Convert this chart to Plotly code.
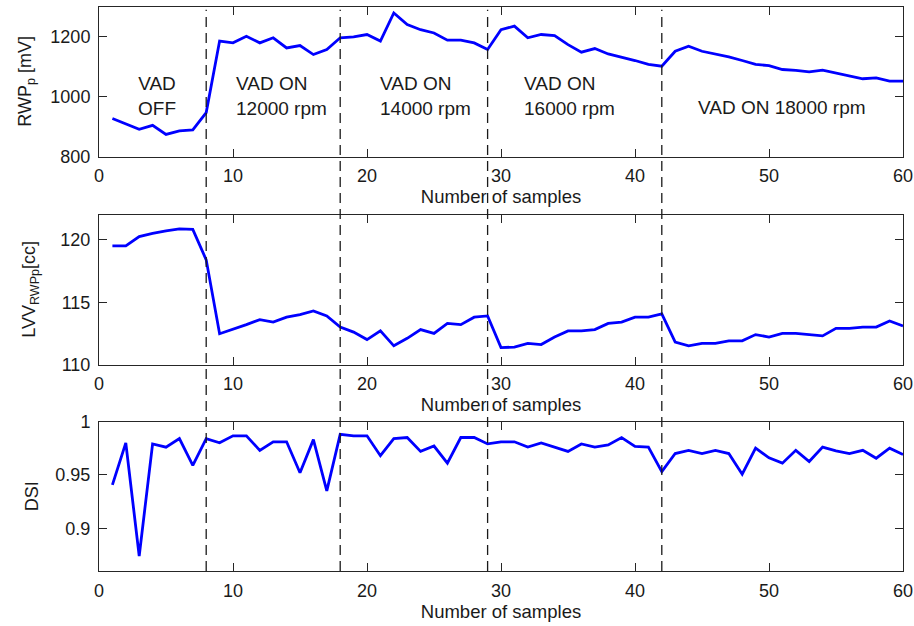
import plotly.graph_objects as go

samples = [1, 2, 3, 4, 5, 6, 7, 8, 9, 10, 11, 12, 13, 14, 15, 16, 17, 18, 19, 20,
           21, 22, 23, 24, 25, 26, 27, 28, 29, 30, 31, 32, 33, 34, 35, 36, 37, 38, 39, 40,
           41, 42, 43, 44, 45, 46, 47, 48, 49, 50, 51, 52, 53, 54, 55, 56, 57, 58, 59, 60]

rwp = [927, 908, 891, 904, 874, 886, 889, 947, 1186, 1180,
       1202, 1180, 1197, 1163, 1171, 1141, 1158, 1197, 1200, 1208,
       1186, 1280, 1241, 1224, 1213, 1189, 1189, 1180, 1158, 1224,
       1236, 1197, 1208, 1204, 1174, 1149, 1161, 1143, 1133, 1121,
       1108, 1102, 1152, 1169, 1152, 1143, 1133, 1121, 1108, 1104,
       1091, 1088, 1083, 1089, 1080, 1069, 1060, 1063, 1052, 1052]

lvv = [119.52, 119.52, 120.27, 120.53, 120.72, 120.88, 120.85, 118.4, 112.47, 112.82,
       113.2, 113.6, 113.4, 113.8, 114.0, 114.3, 113.9, 113.0, 112.6, 112.0,
       112.7, 111.5, 112.1, 112.8, 112.5, 113.3, 113.2, 113.8, 113.9, 111.36,
       111.4, 111.7, 111.6, 112.2, 112.7, 112.7, 112.8, 113.3, 113.4, 113.8,
       113.8, 114.07, 111.8, 111.5, 111.7, 111.7, 111.9, 111.9, 112.4, 112.2,
       112.5, 112.5, 112.4, 112.3, 112.9, 112.9, 113.0, 113.0, 113.5, 113.1]

dsi = [0.9406, 0.980, 0.874, 0.979, 0.976, 0.984, 0.959, 0.984, 0.980, 0.9866,
       0.9866, 0.973, 0.981, 0.981, 0.952, 0.983, 0.935, 0.988, 0.9866, 0.9866,
       0.968, 0.984, 0.985, 0.972, 0.977, 0.961, 0.985, 0.985, 0.979, 0.981,
       0.981, 0.976, 0.980, 0.976, 0.972, 0.979, 0.976, 0.978, 0.985, 0.9766,
       0.976, 0.953, 0.970, 0.973, 0.970, 0.973, 0.970, 0.9506, 0.975, 0.966,
       0.961, 0.973, 0.9625, 0.976, 0.9725, 0.970, 0.973, 0.9656, 0.975, 0.969]

phase_bounds = [8, 18, 29, 42]
phase_labels = ["VAD<br>OFF", "VAD ON<br>12000 rpm", "VAD ON<br>14000 rpm",
                "VAD ON<br>16000 rpm", "VAD ON 18000 rpm"]
phase_label_x = [4.3, 10.1, 20.85, 31.55, 51.0]
phase_label_y = [1002, 1002, 1002, 1002, 963]
phase_label_anchor = ["center", "left", "left", "left", "center"]

x_ticks = [0, 10, 20, 30, 40, 50, 60]
y1_ticks = [800, 1000, 1200]
y2_ticks = [110, 115, 120]
y3_ticks = [0.9, 0.95, 1]
y3_ticktext = ["0.9", "0.95", "1"]

FONT = "Liberation Sans, Arial, sans-serif"
TXT = "#1a1a1a"
BLUE = "#0000ff"

fig = go.Figure()
for i, ys in enumerate([rwp, lvv, dsi]):
    sfx = "" if i == 0 else str(i + 1)
    fig.add_trace(go.Scatter(x=samples, y=ys, mode="lines",
                             line=dict(color=BLUE, width=2.8),
                             xaxis="x" + sfx, yaxis="y" + sfx,
                             showlegend=False, hoverinfo="x+y"))

H = 564.0
def dom(top_px, bot_px):
    return [(571 - bot_px) / H, (571 - top_px) / H]

doms = [dom(7, 156.5), dom(215, 364.5), dom(421.5, 571)]

axis_common = dict(showline=True, linecolor="#262626", linewidth=1,
                   mirror="ticks", ticks="inside", ticklen=8, tickcolor="#262626",
                   showgrid=False, zeroline=False,
                   tickfont=dict(family=FONT, size=18, color=TXT))

layout = dict(
    width=914, height=626,
    margin=dict(l=99, r=11, t=7, b=55, autoexpand=False),
    paper_bgcolor="white", plot_bgcolor="white",
    font=dict(family=FONT, color=TXT),
)

yranges = [[800, 1300], [110, 122], [0.86, 1.0]]
ytickv = [y1_ticks, y2_ticks, y3_ticks]
for i in range(3):
    sfx = "" if i == 0 else str(i + 1)
    layout["xaxis" + sfx] = dict(axis_common, domain=[0, 1], range=[0, 60],
                                 tickvals=x_ticks, anchor="y" + sfx,
                                 ticklabelstandoff=3,
                                 title=dict(text="Number of samples", standoff=4,
                                            font=dict(family=FONT, size=18.5, color=TXT)))
    yax = dict(axis_common, domain=doms[i], range=yranges[i],
               tickvals=ytickv[i], anchor="x" + sfx, ticklabelstandoff=4)
    if i == 2:
        yax["ticktext"] = y3_ticktext
    layout["yaxis" + sfx] = yax

fig.update_layout(**layout)

shapes = []
for b in phase_bounds:
    shapes.append(dict(type="line", xref="x", yref="paper", x0=b, x1=b, y0=0, y1=0.995,
                       line=dict(color="#1a1a1a", width=1.3, dash="10px,6px"), layer="above"))
fig.update_layout(shapes=shapes)

annotations = []
for txt, xv, yv, anc in zip(phase_labels, phase_label_x, phase_label_y, phase_label_anchor):
    annotations.append(dict(text=txt, x=xv, y=yv, xref="x", yref="y",
                            xanchor=anc, yanchor="middle", align=anc,
                            showarrow=False,
                            font=dict(family=FONT, size=19, color=TXT)))

ylabels = ["RWP<sub>p</sub> [mV]", "LVV<sub>RWPp</sub>[cc]", "DSI"]
ylabel_x = [(27 - 99) / 804, (31 - 99) / 804, (32 - 99) / 804]
for i, (lab, xl) in enumerate(zip(ylabels, ylabel_x)):
    annotations.append(dict(text=lab, x=xl, y=(doms[i][0] + doms[i][1]) / 2,
                            xref="paper", yref="paper", textangle=-90,
                            xanchor="center", yanchor="middle", showarrow=False,
                            font=dict(family=FONT, size=18, color=TXT)))
fig.update_layout(annotations=annotations)

fig.write_html("out.html", config={"displayModeBar": False},
               post_script="document.body.style.margin='0';document.body.style.padding='0';")
